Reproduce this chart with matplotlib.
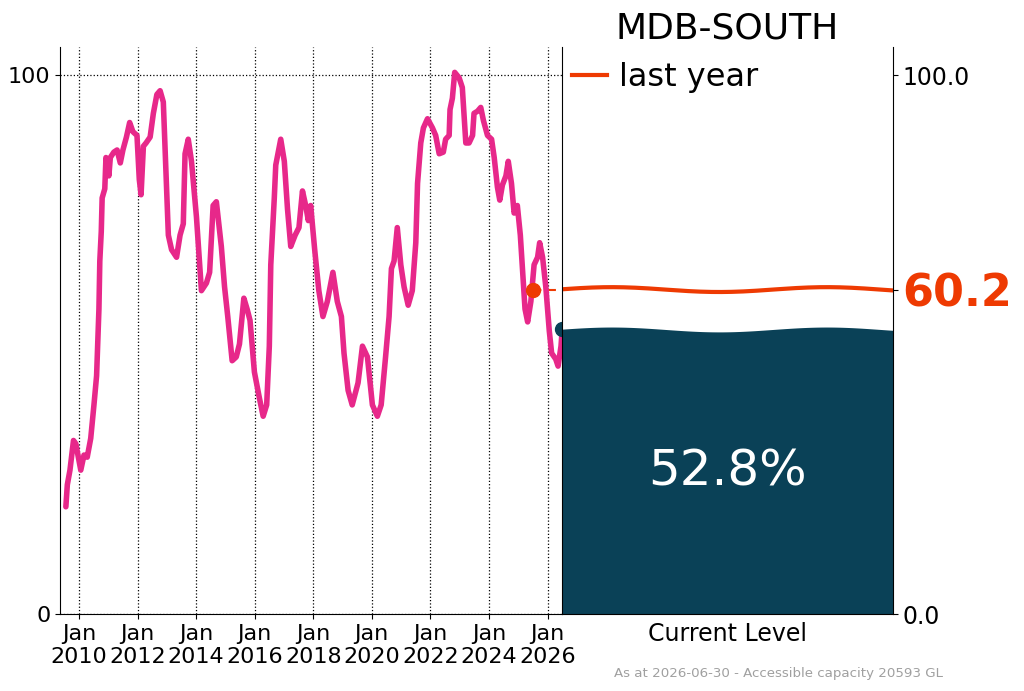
import numpy as np
import matplotlib
matplotlib.use("Agg")
from matplotlib import pyplot as plt
import matplotlib.dates as mdates
from datetime import datetime, timedelta

# storage history (% of accessible capacity)
years = [2009.55, 2009.60, 2009.69, 2009.81, 2009.89, 2010.06, 2010.17, 2010.28, 2010.40, 2010.51,
         2010.60, 2010.68, 2010.71, 2010.76, 2010.79, 2010.88, 2010.92, 2011.02, 2011.07, 2011.19,
         2011.30, 2011.41, 2011.50, 2011.62, 2011.73, 2011.84, 2011.98, 2012.06, 2012.12, 2012.20,
         2012.29, 2012.43, 2012.54, 2012.66, 2012.77, 2012.88, 2013.05, 2013.16, 2013.33, 2013.45,
         2013.56, 2013.62, 2013.73, 2013.84, 2014.01, 2014.18, 2014.35, 2014.46, 2014.58, 2014.69,
         2014.86, 2014.97, 2015.08, 2015.23, 2015.37, 2015.48, 2015.63, 2015.74, 2015.84, 2015.99,
         2016.16, 2016.29, 2016.41, 2016.50, 2016.55, 2016.67, 2016.72, 2016.89, 2017.01, 2017.12,
         2017.23, 2017.38, 2017.51, 2017.63, 2017.74, 2017.83, 2017.91, 2018.05, 2018.19, 2018.33,
         2018.48, 2018.67, 2018.82, 2018.96, 2019.05, 2019.19, 2019.33, 2019.53, 2019.68, 2019.85,
         2020.02, 2020.19, 2020.32, 2020.47, 2020.59, 2020.67, 2020.76, 2020.87, 2020.99, 2021.10,
         2021.24, 2021.38, 2021.50, 2021.56, 2021.67, 2021.76, 2021.90, 2022.07, 2022.18, 2022.30,
         2022.44, 2022.52, 2022.64, 2022.67, 2022.75, 2022.83, 2022.98, 2023.09, 2023.21, 2023.32,
         2023.44, 2023.49, 2023.61, 2023.72, 2023.81, 2023.95, 2024.09, 2024.18, 2024.29, 2024.37,
         2024.46, 2024.58, 2024.66, 2024.77, 2024.86, 2024.97, 2025.07, 2025.15, 2025.23, 2025.32,
         2025.43, 2025.54, 2025.66, 2025.73, 2025.83, 2025.94, 2026.06, 2026.14, 2026.28, 2026.36,
         2026.46, 2026.50]
storage = [19.9, 24.0, 26.7, 32.2, 31.6, 26.7, 29.5, 29.1, 32.6, 38.8,
           44.2, 56.6, 65.5, 71.0, 77.2, 78.9, 84.7, 81.3, 84.7, 85.7,
           86.1, 83.7, 86.1, 88.5, 91.2, 89.5, 88.8, 80.6, 77.8, 86.8,
           87.4, 88.5, 92.9, 96.4, 97.1, 95.0, 70.3, 67.6, 66.2, 70.3,
           72.4, 85.4, 88.1, 84.0, 73.7, 60.0, 61.4, 63.4, 75.8, 76.5,
           68.2, 60.7, 55.2, 47.0, 47.7, 50.1, 58.6, 56.6, 54.5, 44.9,
           40.1, 36.7, 38.8, 49.7, 64.8, 77.2, 83.3, 88.1, 84.0, 75.1,
           68.2, 70.3, 71.7, 78.5, 75.8, 73.0, 75.8, 67.5, 60.0, 55.2,
           58.0, 63.4, 58.0, 55.2, 48.4, 41.5, 38.8, 42.9, 49.7, 47.7,
           38.8, 36.7, 38.8, 47.7, 55.2, 64.1, 65.5, 71.7, 64.8, 60.7,
           57.3, 60.0, 68.9, 79.9, 87.4, 90.2, 91.9, 90.2, 88.8, 85.4,
           85.7, 88.1, 88.8, 93.6, 95.7, 100.5, 99.5, 97.7, 87.4, 87.4,
           88.8, 92.9, 93.3, 94.0, 91.6, 88.8, 88.1, 84.7, 79.2, 76.8,
           79.6, 81.3, 84.0, 79.9, 74.4, 75.8, 70.3, 63.4, 56.6, 54.2,
           58.0, 64.8, 66.2, 68.9, 66.2, 60.7, 52.5, 48.4, 47.3, 46.0,
           49.7, 52.8]

current_level = 52.8
last_year_level = 60.2
current_date = datetime(2026, 6, 30)
last_year_date = datetime(2025, 6, 30)
region = "MDB-SOUTH"
capacity_gl = 20593

PINK = "#e7288a"
ORANGE = "#ee3a02"
NAVY = "#0a4157"


def to_date(y):
    yi = int(y)
    return datetime(yi, 1, 1) + timedelta(days=(y - yi) * 365.25)


dates = [to_date(y) for y in years]

fig = plt.figure(figsize=(10.24, 6.91), dpi=100)
ax = fig.add_axes([0.0586, 0.1114, 0.4902, 0.8205])
ax2 = fig.add_axes([0.5488, 0.1114, 0.3232, 0.8205])

# history line
ax.plot(dates, storage, color=PINK, lw=4, solid_capstyle="round", zorder=3)
ax.plot([last_year_date, current_date], [last_year_level, last_year_level],
        color=ORANGE, lw=1.5, ls=(0, (4, 3)), zorder=2)
ax.plot([last_year_date], [last_year_level], "o", color=ORANGE, ms=10, zorder=4)
ax.plot([current_date], [current_level], "o", color=NAVY, ms=10, zorder=4, clip_on=True)

ax.set_xlim(to_date(2009.35), current_date)
ax.set_ylim(0, 105.2)
ax.set_yticks([0, 100])
ax.set_yticklabels(["0", "100"])
ax.xaxis.set_major_locator(mdates.YearLocator(2))
ax.xaxis.set_major_formatter(mdates.DateFormatter("Jan\n%Y"))
ax.tick_params(labelsize=16)
ax.grid(True, color="black", ls=":", lw=0.9)
for s in ["top", "right"]:
    ax.spines[s].set_visible(False)

# current level panel
xs = np.linspace(0, 1, 200)
wave = 0.45 * np.cos(2 * np.pi * (xs - 0.15) / 0.65)
ax2.fill_between(xs, 0, current_level + wave, color=NAVY, lw=0)
ax2.plot(xs, last_year_level + wave, color=ORANGE, lw=3, label="last year")
ax2.text(0.5, current_level / 2, f"{current_level}%", color="white", fontsize=36,
         ha="center", va="center")
ax2.set_xlim(0, 1)
ax2.set_ylim(0, 105.2)
ax2.set_xticks([0.5])
ax2.set_xticklabels(["Current Level"], fontsize=17)
ax2.tick_params(axis="x", length=0, pad=6)
ax2.yaxis.tick_right()
ax2.set_yticks([0, last_year_level, 100])
ax2.set_yticklabels(["0.0", f"{last_year_level}", "100.0"], fontsize=17)
lbl = ax2.get_yticklabels()[1]
lbl.set_color(ORANGE)
lbl.set_fontweight("bold")
lbl.set_fontsize(32)
ax2.spines["top"].set_visible(False)
ax2.set_title(region, fontsize=26, pad=6)
ax2.legend(loc="upper left", bbox_to_anchor=(0, 0.99), frameon=False, fontsize=23,
           handlelength=1.1, handletextpad=0.4, borderaxespad=0.1, borderpad=0.2)

fig.text(0.921, 0.026, f"As at {current_date:%Y-%m-%d} - Accessible capacity {capacity_gl} GL",
         ha="right", va="center", fontsize=9.6, color="#a0a0a0")

fig.savefig("out.png", dpi=100)
